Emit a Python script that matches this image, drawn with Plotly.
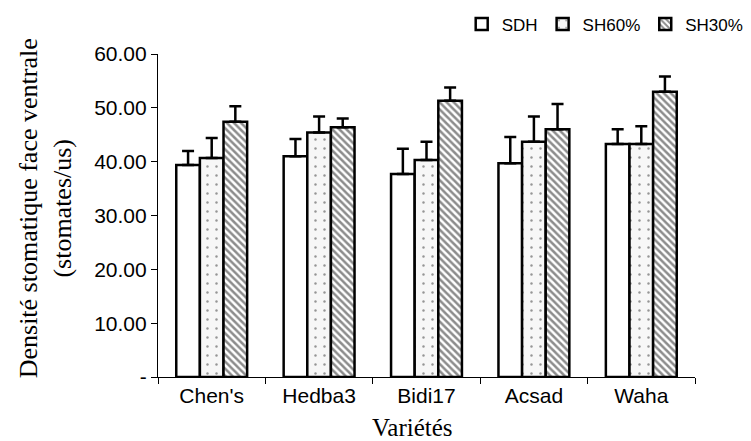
import plotly.graph_objects as go

categories = ["Chen's", "Hedba3", "Bidi17", "Acsad", "Waha"]
series_names = ["SDH", "SH60%", "SH30%"]
sdh = [39.4, 41.0, 37.7, 39.7, 43.3]
sh60 = [40.7, 45.4, 40.3, 43.7, 43.3]
sh30 = [47.4, 46.4, 51.3, 46.0, 53.0]
sdh_err = [2.6, 3.2, 4.7, 4.9, 2.7]
sh60_err = [3.7, 3.0, 3.4, 4.7, 3.3]
sh30_err = [2.9, 1.6, 2.5, 4.7, 2.8]
ytick_vals = [0, 10, 20, 30, 40, 50, 60]
ytick_text = ["-", "10.00", "20.00", "30.00", "40.00", "50.00", "60.00"]

patterns = [
    dict(shape="", fgcolor="black", bgcolor="white"),
    dict(shape=".", size=9, solidity=0.06, fgcolor="#333333", bgcolor="#f7f7f7"),
    dict(shape="\\", size=5, solidity=0.5, fgcolor="#1a1a1a", bgcolor="white"),
]
colors = ["white", "#f7f7f7", "white"]

fig = go.Figure()
for name, vals, errs, pat, col in zip(series_names, [sdh, sh60, sh30],
                                      [sdh_err, sh60_err, sh30_err], patterns, colors):
    fig.add_trace(go.Bar(
        name=name, x=categories, y=vals,
        marker=dict(color=col, pattern=pat, line=dict(color="black", width=2.5)),
        error_y=dict(type="data", symmetric=False, array=errs,
                     arrayminus=[0] * len(errs), color="black",
                     thickness=2.5, width=6),
    ))

fig.update_layout(
    width=751, height=441,
    margin=dict(l=150, r=64, t=46, b=72, autoexpand=False),
    plot_bgcolor="white", paper_bgcolor="white",
    barmode="group", bargap=0.34, bargroupgap=0,
    font=dict(family="Liberation Sans, Arial", color="black", size=21),
    showlegend=True,
    legend=dict(orientation="h", x=1.1, xanchor="right", y=1.0913, yanchor="middle",
                font=dict(size=17, family="Liberation Sans, Arial"),
                itemwidth=30, traceorder="normal", bgcolor="rgba(0,0,0,0)"),
    xaxis=dict(showline=True, linecolor="black", linewidth=1.2,
               ticks="outside", tickson="boundaries", ticklen=6,
               tickcolor="black", tickwidth=1.2, showgrid=False,
               tickfont=dict(size=21)),
    yaxis=dict(range=[0, 60], showline=True, linecolor="black", linewidth=1.2,
               ticks="outside", ticklen=6, tickcolor="black", tickwidth=1.2,
               tickvals=ytick_vals, ticktext=ytick_text, showgrid=False,
               zeroline=False, tickfont=dict(size=21)),
    annotations=[
        dict(text="Densité stomatique face ventrale<br>(stomates/us)",
             xref="paper", yref="paper", x=-0.21, y=0.523, textangle=-90,
             xanchor="center", yanchor="middle", showarrow=False,
             font=dict(family="Liberation Serif, Times New Roman", size=26)),
        dict(text="Variétés", xref="paper", yref="paper", x=0.473, y=-0.157,
             xanchor="center", yanchor="middle", showarrow=False,
             font=dict(family="Liberation Serif, Times New Roman", size=25)),
    ],
)

fig.write_html("out.html")
